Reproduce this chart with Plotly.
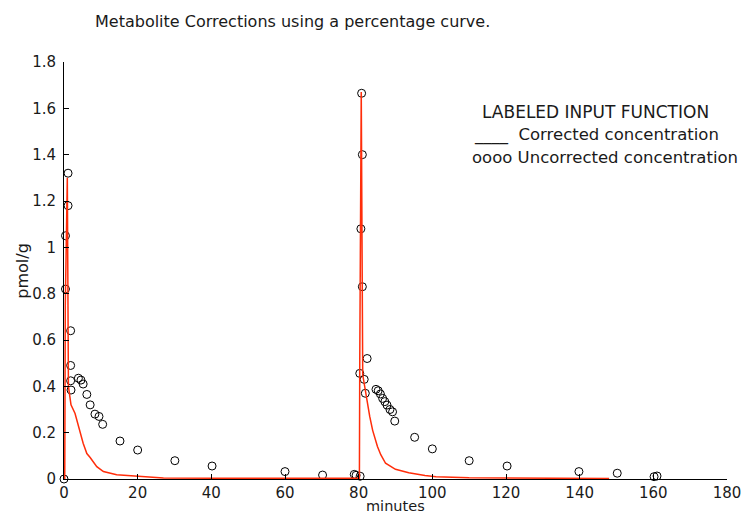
import plotly.graph_objects as go

# Uncorrected concentration (circles)
unc_t = [0, 0.4, 0.4, 1.1, 1.1, 1.8, 1.8, 1.8, 1.9, 3.9, 4.6, 5.2, 6.2, 7.1, 8.4, 9.5, 10.5,
         15.2, 20, 30.1, 40.2, 60, 70.2, 78.8, 79.3, 80.4,
         80.3, 80.8, 81.0, 80.6, 81.0, 82.3, 81.5, 81.8,
         84.7, 85.3, 85.9, 86.5, 87.1, 87.7, 88.5, 89.2, 89.8,
         95.2, 100, 110, 120.3, 139.8, 150.2, 160.2, 161]
unc_v = [0, 0.82, 1.05, 1.32, 1.18, 0.64, 0.49, 0.424, 0.384, 0.435, 0.427, 0.41, 0.365, 0.32, 0.28, 0.27, 0.236,
         0.164, 0.125, 0.079, 0.056, 0.032, 0.017, 0.02, 0.016, 0.012,
         0.456, 1.665, 1.40, 1.08, 0.83, 0.52, 0.43, 0.37,
         0.387, 0.381, 0.367, 0.348, 0.334, 0.319, 0.30, 0.29, 0.25,
         0.18, 0.13, 0.079, 0.056, 0.032, 0.025, 0.01, 0.013]

# Corrected concentration (red line)
cor_t = [0, 0.2, 0.35, 0.9, 1.2, 1.5, 1.9, 3.0, 4.3, 5.2, 6.2, 7.1, 8.9, 10.7, 14.3, 20.2, 27, 46, 79.8,
         80.2, 80.3, 80.7, 81.1, 81.6, 82.0, 82.4, 83.0, 83.8, 85.1, 86.0, 87.3, 90, 93.6, 98, 101, 110, 126, 148]
cor_v = [0, 0, 0.75, 1.30, 0.40, 0.36, 0.32, 0.283, 0.21, 0.154, 0.11, 0.093, 0.053, 0.032, 0.018, 0.01, 0.004, 0.003, 0.003,
         0.003, 0.52, 1.67, 0.45, 0.40, 0.36, 0.31, 0.27, 0.21, 0.14, 0.105, 0.068, 0.042, 0.027, 0.015, 0.01, 0.005, 0.003, 0.002]

x_ticks = [0, 20, 40, 60, 80, 100, 120, 140, 160, 180]
y_ticks = [0, 0.2, 0.4, 0.6, 0.8, 1.0, 1.2, 1.4, 1.6, 1.8]
y_tick_text = ["0", "0.2", "0.4", "0.6", "0.8", "1", "1.2", "1.4", "1.6", "1.8"]

title_text = "Metabolite Corrections using a percentage curve."
legend_lines = ["LABELED INPUT FUNCTION", "____  Corrected concentration", "oooo Uncorrected concentration"]

FONT = "DejaVu Sans"
TXT = "#1a1a1a"

fig = go.Figure()
fig.add_trace(go.Scatter(x=unc_t, y=unc_v, mode="markers",
                         marker=dict(symbol="circle-open", size=8, color="black", line=dict(width=1)),
                         showlegend=False, cliponaxis=False, hoverinfo="skip"))
fig.add_trace(go.Scatter(x=cor_t, y=cor_v, mode="lines",
                         line=dict(color="rgb(255,45,10)", width=1.5),
                         showlegend=False, cliponaxis=False, hoverinfo="skip"))

fig.update_layout(
    width=743, height=515,
    margin=dict(l=64, r=16, t=62, b=36, autoexpand=False),
    paper_bgcolor="white", plot_bgcolor="white",
    font=dict(family=FONT, size=15, color=TXT),
    showlegend=False,
    xaxis=dict(range=[0, 180], tickvals=x_ticks, ticks="inside", ticklen=5, tickcolor="black",
               showline=True, linecolor="black", linewidth=1, showgrid=False, zeroline=False,
               automargin=False, tickfont=dict(family=FONT, size=15, color=TXT)),
    yaxis=dict(range=[0, 1.8], tickvals=y_ticks, ticktext=y_tick_text, ticks="inside", ticklen=5,
               tickcolor="black", showline=True, linecolor="black", linewidth=1, showgrid=False,
               zeroline=False, automargin=False, ticklabelstandoff=4,
               tickfont=dict(family=FONT, size=15, color=TXT)),
)

ann = []
ann.append(dict(text=title_text, x=0.344, y=1.096, xref="paper", yref="paper",
                xanchor="center", yanchor="middle", showarrow=False, font=dict(size=16)))
for txt, xx, yy, fs in zip(legend_lines, [0.627, 0.615, 0.612], [0.880, 0.825, 0.770], [17, 16.5, 16.5]):
    ann.append(dict(text=txt, x=xx, y=yy, xref="paper", yref="paper", xanchor="left",
                    yanchor="middle", showarrow=False, font=dict(size=fs)))
ann.append(dict(text="minutes", x=0.5, y=-0.065, xref="paper", yref="paper",
                xanchor="center", yanchor="middle", showarrow=False, font=dict(size=14.5)))
ann.append(dict(text="pmol/g", x=-0.063, y=0.5, xref="paper", yref="paper", textangle=-90,
                xanchor="center", yanchor="middle", showarrow=False, font=dict(size=16)))
fig.update_layout(annotations=ann)

fig.write_html("out.html", config={"displayModeBar": False},
               post_script="document.body.style.margin='0';document.body.style.overflow='hidden';")
